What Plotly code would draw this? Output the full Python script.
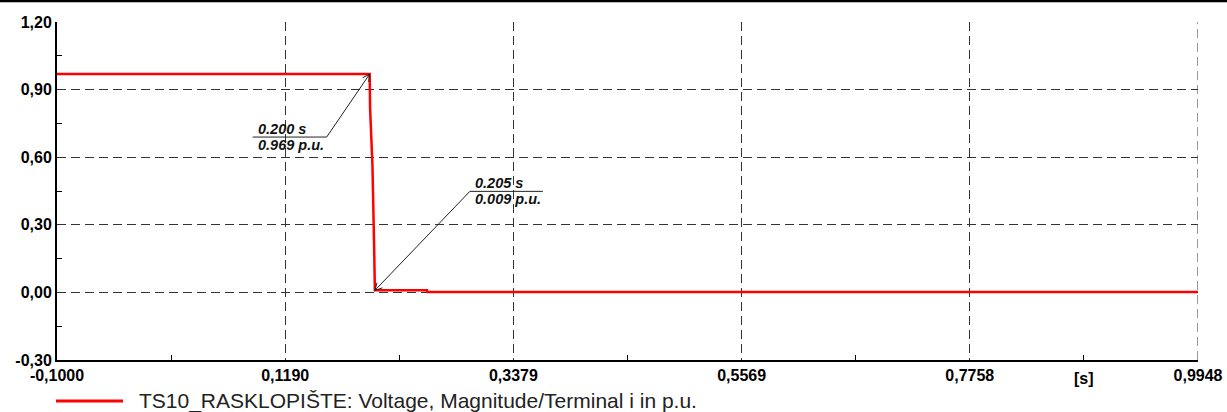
import math
import plotly.graph_objects as go

# Voltage magnitude at the switchgear terminal (p.u.) over simulation time (s)
time_s = [-0.1000, 0.2000, 0.2004, 0.2024, 0.2027, 0.2043, 0.2050, 0.2550, 0.2555, 0.9948]
voltage_pu = [0.969, 0.969, 0.820, 0.600, 0.560, 0.200, 0.009, 0.009, 0.002, 0.002]

# Cursor readouts placed on the curve
cursor_t = [0.200, 0.205]
cursor_v = [0.969, 0.009]

# Axis ticks
x_ticks = [-0.1000, 0.1190, 0.3379, 0.5569, 0.7758, 0.9948]
x_tick_labels = ["-0,1000", "0,1190", "0,3379", "0,5569", "0,7758", "0,9948"]
y_ticks = [-0.30, 0.00, 0.30, 0.60, 0.90, 1.20]
y_tick_labels = ["-0,30", "0,00", "0,30", "0,60", "0,90", "1,20"]

series_name = "TS10_RASKLOPIŠTE: Voltage, Magnitude/Terminal i in p.u."
x_unit = "[s]"

FONT = "Arial, 'Liberation Sans', sans-serif"
W, H = 1227, 412
ML, MR, MT, MB = 57, 29, 22, 52
PW, PH = W - ML - MR, H - MT - MB

x_minor = [(a + b) / 2 for a, b in zip(x_ticks[:-1], x_ticks[1:])]
y_minor = [(a + b) / 2 for a, b in zip(y_ticks[:-1], y_ticks[1:])]

GRID_COLOR = "#333333"
GRID_DASH = "9px,5px"

fig = go.Figure()
fig.add_trace(go.Scatter(
    x=time_s, y=voltage_pu, mode="lines", name=series_name,
    line=dict(color="#ff0000", width=2.5), showlegend=False,
))

grid = dict(showgrid=True, gridcolor=GRID_COLOR, gridwidth=1, griddash=GRID_DASH,
            zeroline=False, showline=True, linecolor="black", linewidth=2,
            ticks="", automargin=False,
            tickfont=dict(family=FONT, size=16, color="black", weight="bold"))

fig.update_xaxes(range=[x_ticks[0], x_ticks[-1]], tickmode="array",
                 tickvals=x_ticks, ticktext=x_tick_labels,
                 minor=dict(tickvals=x_minor, ticks="inside", ticklen=5,
                            tickcolor="black", tickwidth=1, showgrid=False),
                 **grid)
fig.update_yaxes(range=[y_ticks[0], y_ticks[-1]], tickmode="array",
                 tickvals=y_ticks, ticktext=y_tick_labels,
                 minor=dict(tickvals=y_minor, ticks="inside", ticklen=5,
                            tickcolor="black", tickwidth=1, showgrid=False),
                 **grid)

shapes = []
annotations = []

# Right edge of the plot carries the last time gridline
shapes.append(dict(type="line", xref="x", yref="paper", x0=x_ticks[-1], x1=x_ticks[-1],
                   y0=0, y1=1, line=dict(color=GRID_COLOR, width=1, dash=GRID_DASH),
                   layer="below"))


def arrow_arms(dx, dy, length=8, half_angle=28):
    """End points of an open arrowhead at the origin pointing away from (dx, dy)."""
    ang = math.atan2(dy, dx)
    pts = []
    for s in (-1, 1):
        a = ang + s * math.radians(half_angle)
        pts.append((length * math.cos(a), length * math.sin(a)))
    return pts


# Callout geometry in pixels relative to the cursor point (y up):
# (diagonal end dx, dy, leader length)
callouts = [(-43, -63, -74), (95, 99, 73)]

for t, v, (dx, dy, lead) in zip(cursor_t, cursor_v, callouts):
    (a1x, a1y), (a2x, a2y) = arrow_arms(dx, dy)
    path = (f"M {dx + lead},{dy} L {dx},{dy} L 0,0 "
            f"M {a1x:.2f},{a1y:.2f} L 0,0 L {a2x:.2f},{a2y:.2f}")
    shapes.append(dict(type="path", xref="x", yref="y", xsizemode="pixel",
                       ysizemode="pixel", xanchor=t, yanchor=v, path=path,
                       line=dict(color="#222222", width=1)))
    left = min(dx, dx + lead) + 4
    tfont = dict(family=FONT, size=14.5, color="#111111", weight="bold", style="italic")
    annotations.append(dict(x=t, y=v, xref="x", yref="y", text=f"{t:.3f} s",
                            showarrow=False, xanchor="left", yanchor="bottom",
                            xshift=left, yshift=dy - 1, font=tfont, borderpad=0))
    annotations.append(dict(x=t, y=v, xref="x", yref="y", text=f"{v:.3f} p.u.",
                            showarrow=False, xanchor="left", yanchor="top",
                            xshift=left, yshift=dy + 1, font=tfont, borderpad=0))

# Unit label on the time axis
annotations.append(dict(x=x_minor[-1], y=0, xref="x", yref="paper", text=x_unit,
                        showarrow=False, xanchor="center", yanchor="middle", yshift=-18,
                        font=dict(family=FONT, size=16, color="black", weight="bold")))

# Legend entry below the axis
leg_y = (H - MB - 401) / PH
shapes.append(dict(type="line", xref="paper", yref="paper", x0=-1 / PW, x1=66 / PW,
                   y0=leg_y, y1=leg_y, line=dict(color="#ff0000", width=3)))
annotations.append(dict(x=80 / PW, y=leg_y, xref="paper", yref="paper", text=series_name,
                        showarrow=False, xanchor="left", yanchor="middle",
                        font=dict(family=FONT, size=21, color="#222222")))

# Frame edge along the top of the page
top_y = 1 + (MT - 1) / PH
shapes.append(dict(type="line", xref="paper", yref="paper", x0=-ML / PW, x1=1 + MR / PW,
                   y0=top_y, y1=top_y, line=dict(color="black", width=2.5)))

fig.update_layout(
    width=W, height=H, autosize=False,
    margin=dict(l=ML, r=MR, t=MT, b=MB, pad=0, autoexpand=False),
    paper_bgcolor="white", plot_bgcolor="white",
    shapes=shapes, annotations=annotations,
    font=dict(family=FONT),
)

fig.write_html("out.html")
